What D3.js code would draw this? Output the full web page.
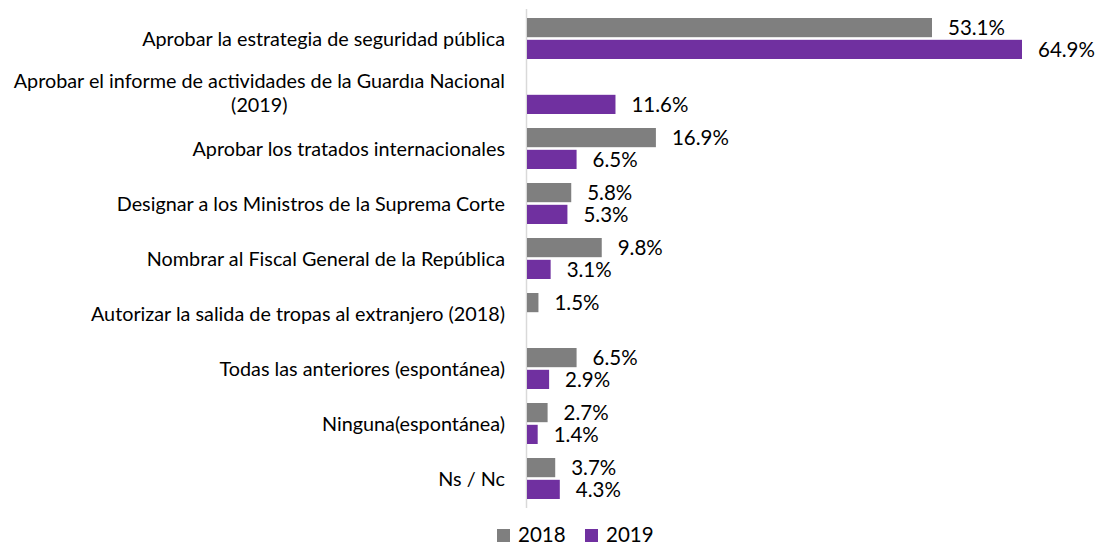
<!DOCTYPE html>
<html><head><meta charset="utf-8">
<script src="https://cdn.jsdelivr.net/npm/d3@7"></script>
<style>body{margin:0;background:#fff}svg{display:block}text{font-family:"Lato","Open Sans",sans-serif}</style>
</head><body><svg id="c" width="1099" height="546"></svg>
<script>
const categories = [
  ["Aprobar la estrategia de seguridad pública"],
  ["Aprobar el informe de actividades de la Guardıa Nacional","(2019)"],
  ["Aprobar los tratados internacionales"],
  ["Designar a los Ministros de la Suprema Corte"],
  ["Nombrar al Fiscal General de la República"],
  ["Autorizar la salida de tropas al extranjero (2018)"],
  ["Todas las anteriores (espontánea)"],
  ["Ninguna(espontánea)"],
  ["Ns / Nc"]
];
const series = ["2018","2019"];
const values2018 = [53.1, null, 16.9, 5.8, 9.8, 1.5, 6.5, 2.7, 3.7];
const values2019 = [64.9, 11.6, 6.5, 5.3, 3.1, null, 2.9, 1.4, 4.3];
const colors = ["#7f7f7f","#7030a0"];

const svg = d3.select("#c");
const x = d3.scaleLinear().domain([0, 64.9]).range([527, 1022]);
const y = d3.scaleBand().domain(d3.range(categories.length)).range([11, 506]);
const inner = d3.scaleBand().domain(series).range([7, 48]).paddingInner(0.12);

svg.append("line").attr("x1",526.5).attr("x2",526.5).attr("y1",9).attr("y2",508)
  .attr("stroke","#d9d9d9").attr("stroke-width",1.5);

const data = [values2018, values2019];
series.forEach((s, si) => {
  const g = svg.append("g");
  data[si].forEach((v, i) => {
    if (v == null) return;
    const yy = y(i) + inner(s);
    g.append("rect").attr("x", x(0)).attr("y", yy).attr("width", x(v) - x(0))
      .attr("height", inner.bandwidth()).attr("fill", colors[si]);
    g.append("text").attr("x", x(v) + 16).attr("y", yy + inner.bandwidth()/2)
      .attr("dy","0.36em").attr("font-size",20.5).attr("fill","#000").text(v.toFixed(1) + "%");
  });
});

categories.forEach((lines, i) => {
  const cy = y(i) + y.bandwidth()/2;
  if (lines.length === 1) {
    svg.append("text").attr("x", 505).attr("y", cy).attr("dy","0.36em")
      .attr("text-anchor","end").attr("font-size",19.8).attr("fill","#000").text(lines[0]);
  } else {
    const t = svg.append("text").attr("font-size",19.8).attr("fill","#000");
    const t1 = t.append("tspan").attr("x",505).attr("y", cy - 13).attr("dy","0.36em").attr("text-anchor","end").text(lines[0]);
    const w = t1.node().getComputedTextLength();
    t.append("tspan").attr("x", 505 - w/2).attr("y", cy + 11).attr("dy","0.36em").attr("text-anchor","middle").text(lines[1]);
  }
});

const leg = svg.append("g");
const legX = [497, 585];
series.forEach((s, si) => {
  leg.append("rect").attr("x", legX[si]).attr("y", 529).attr("width", 13).attr("height", 13).attr("fill", colors[si]);
  leg.append("text").attr("x", legX[si] + 21).attr("y", 542).attr("font-size",20.5).attr("fill","#000").text(s);
});
</script></body></html>
